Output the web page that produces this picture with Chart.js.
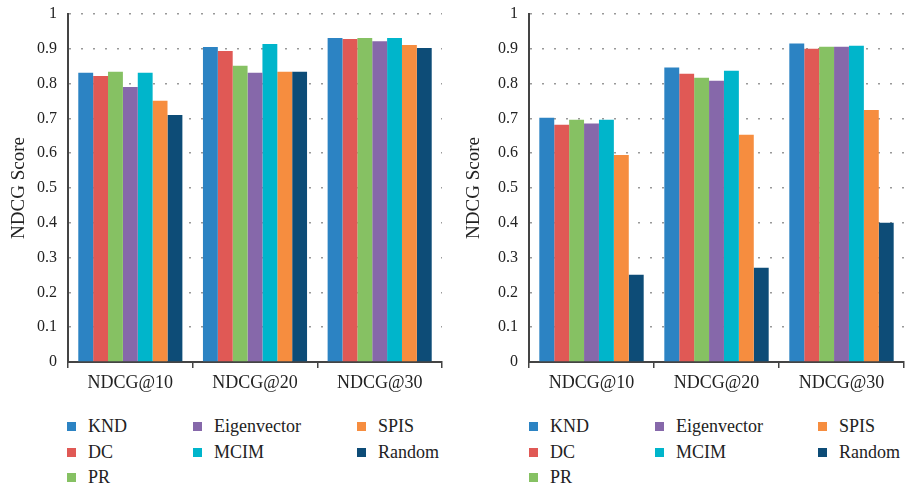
<!DOCTYPE html>
<html>
<head>
<meta charset="utf-8">
<script src="https://cdn.jsdelivr.net/npm/chart.js@4"></script>
<style>
    body { margin: 0; background: #fff; }
    #wrap { position: relative; width: 906px; height: 487px; overflow: hidden; }
    .box { position: absolute; top: 0; height: 400px; }
    .legend { position: absolute; font-family: "Liberation Serif", "DejaVu Serif", serif; font-size: 18px; color: #222; }
    .item { position: absolute; white-space: nowrap; line-height: 20px; }
    .swatch { position: absolute; width: 9px; height: 9px; top: 6px; }
</style>
</head>
<body>
<div id="wrap">
    <div class="box" style="left:0;width:455px"><canvas id="leftChart"></canvas></div>
    <div class="box" style="left:455px;width:451px"><canvas id="rightChart"></canvas></div>
    <div class="legend" id="leftLegend"></div>
    <div class="legend" id="rightLegend"></div>
</div>
<script>
// Categories and methods
const categories = ['NDCG@10', 'NDCG@20', 'NDCG@30'];
const methods = ['KND', 'DC', 'PR', 'Eigenvector', 'MCIM', 'SPIS', 'Random'];
const colors = ['#2c83c3', '#e05955', '#86c163', '#8668aa', '#00b5cb', '#f68d3f', '#0d4c77'];
const yTicks = [0, 0.1, 0.2, 0.3, 0.4, 0.5, 0.6, 0.7, 0.8, 0.9, 1];

// Left chart scores
const leftKND = [0.831, 0.905, 0.931];
const leftDC = [0.822, 0.894, 0.928];
const leftPR = [0.834, 0.851, 0.931];
const leftEigenvector = [0.790, 0.831, 0.922];
const leftMCIM = [0.831, 0.914, 0.931];
const leftSPIS = [0.751, 0.834, 0.911];
const leftRandom = [0.710, 0.834, 0.902];

// Right chart scores
const rightKND = [0.702, 0.846, 0.915];
const rightDC = [0.682, 0.828, 0.900];
const rightPR = [0.696, 0.817, 0.906];
const rightEigenvector = [0.685, 0.808, 0.906];
const rightMCIM = [0.696, 0.837, 0.909];
const rightSPIS = [0.595, 0.653, 0.724];
const rightRandom = [0.251, 0.271, 0.400];

const leftScores = [leftKND, leftDC, leftPR, leftEigenvector, leftMCIM, leftSPIS, leftRandom];
const rightScores = [rightKND, rightDC, rightPR, rightEigenvector, rightMCIM, rightSPIS, rightRandom];

// legend columns (column-major like the original)
const legendCols = [['KND', 'DC', 'PR'], ['Eigenvector', 'MCIM'], ['SPIS', 'Random']];

const serif = '"Liberation Serif", "DejaVu Serif", serif';

const makeChart = (id, scores, axisWidth, padRight) => {
    const ctx = document.getElementById(id).getContext('2d');
    return new Chart(ctx, {
        type: 'bar',
        data: {
            labels: categories,
            datasets: methods.map((m, i) => ({
                label: m,
                data: scores[i],
                backgroundColor: colors[i],
                categoryPercentage: 0.835,
                barPercentage: 1.0
            }))
        },
        options: {
            responsive: true,
            maintainAspectRatio: false,
            animation: false,
            layout: { padding: { top: 14, right: padRight, left: 0, bottom: 0 } },
            plugins: {
                legend: { display: false },
                tooltip: { enabled: false }
            },
            scales: {
                x: {
                    afterFit: (s) => { s.height = 38; },
                    grid: {
                        offset: true,
                        drawOnChartArea: false,
                        drawTicks: true,
                        tickLength: 6,
                        color: '#444',
                        lineWidth: 1.5
                    },
                    border: { display: true, color: '#444', width: 2 },
                    ticks: {
                        font: { family: serif, size: 18 },
                        color: '#222',
                        padding: 4
                    }
                },
                y: {
                    min: 0,
                    max: 1,
                    // fixed axis width, and no extra room above for the top label
                    afterFit: (s) => {
                        s.width = axisWidth;
                        s.paddingTop = 0;
                        s.paddingBottom = 0;
                    },
                    afterBuildTicks: (s) => { s.ticks = yTicks.map(v => ({ value: v })); },
                    grid: {
                        drawTicks: false,
                        color: '#999',
                        lineWidth: 1.5
                    },
                    // dash here only affects the grid lines, the axis line stays solid
                    border: { display: true, color: '#444', width: 2, dash: [2, 10] },
                    ticks: {
                        font: { family: serif, size: 16 },
                        color: '#222',
                        padding: 11,
                        callback: (v) => String(Math.round(v * 10) / 10)
                    },
                    title: {
                        display: true,
                        text: 'NDCG Score',
                        font: { family: serif, size: 19 },
                        color: '#222',
                        padding: { top: 8, bottom: 0 }
                    }
                }
            }
        }
    });
};

const leftChart = makeChart('leftChart', leftScores, 68, 13);
const rightChart = makeChart('rightChart', rightScores, 74, 2);

// HTML legend built from the method list
const buildLegend = (elId, colX, textOffset) => {
    const el = document.getElementById(elId);
    const rowsY = [416, 442, 467];
    legendCols.forEach((col, c) => {
        col.forEach((name, r) => {
            const item = document.createElement('div');
            item.className = 'item';
            item.style.left = colX[c] + 'px';
            item.style.top = rowsY[r] + 'px';
            const sw = document.createElement('span');
            sw.className = 'swatch';
            sw.style.left = '0px';
            sw.style.background = colors[methods.indexOf(name)];
            const tx = document.createElement('span');
            tx.style.marginLeft = textOffset + 'px';
            tx.textContent = name;
            item.appendChild(sw);
            item.appendChild(tx);
            el.appendChild(item);
        });
    });
};

buildLegend('leftLegend', [67, 193, 357], 21);
buildLegend('rightLegend', [529, 655, 818], 21);
</script>
</body>
</html>
